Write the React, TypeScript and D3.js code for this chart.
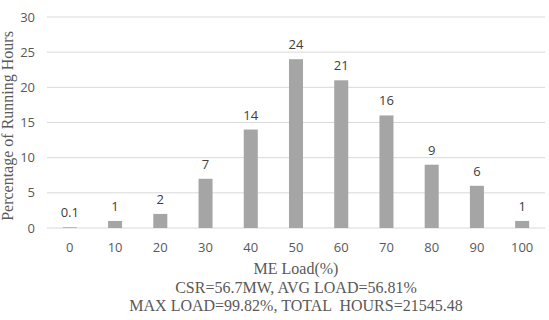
import { useEffect, useRef } from 'react';
import * as d3 from 'd3';

const loads = ['0', '10', '20', '30', '40', '50', '60', '70', '80', '90', '100'];
const hours = [0.1, 1, 2, 7, 14, 24, 21, 16, 9, 6, 1];
const yTicks = [0, 5, 10, 15, 20, 25, 30];
const xTitle = 'ME Load(%)';
const noteLines = ['CSR=56.7MW, AVG LOAD=56.81%', 'MAX LOAD=99.82%, TOTAL  HOURS=21545.48'];

export default function App() {
  const svgRef = useRef<SVGSVGElement>(null);

  useEffect(() => {
    const svg = d3.select(svgRef.current);
    svg.selectAll('*').remove();

    const width = 549;
    const height = 320;
    const margin = { top: 17, right: 4, bottom: 92, left: 47 };
    const innerWidth = width - margin.left - margin.right;
    const innerHeight = height - margin.top - margin.bottom;

    const g = svg.append('g').attr('transform', `translate(${margin.left},${margin.top})`);

    const x = d3.scaleBand().domain(loads).range([0, innerWidth]).paddingInner(0.69).paddingOuter(0.35);
    const y = d3.scaleLinear().domain([0, 30]).range([innerHeight, 0]);

    const tickFont = '"Open Sans", sans-serif';

    // gridlines
    g.append('g')
      .selectAll('line')
      .data(yTicks)
      .join('line')
      .attr('x1', 0)
      .attr('x2', innerWidth)
      .attr('y1', d => y(d))
      .attr('y2', d => y(d))
      .attr('stroke', '#d9d9d9')
      .attr('stroke-width', 1);

    // y tick labels
    g.append('g')
      .selectAll('text')
      .data(yTicks)
      .join('text')
      .attr('x', -12)
      .attr('y', d => y(d))
      .attr('dy', '0.35em')
      .attr('text-anchor', 'end')
      .style('font-family', tickFont)
      .style('font-size', '13px')
      .attr('fill', '#595959')
      .text(d => d);

    // bars
    g.append('g')
      .selectAll('rect')
      .data(hours)
      .join('rect')
      .attr('x', (d, i) => x(loads[i])!)
      .attr('y', d => y(d))
      .attr('width', x.bandwidth())
      .attr('height', d => innerHeight - y(d))
      .attr('fill', '#a5a5a5');

    // value labels
    g.append('g')
      .selectAll('text')
      .data(hours)
      .join('text')
      .attr('x', (d, i) => x(loads[i])! + x.bandwidth() / 2)
      .attr('y', d => y(d) - 10)
      .attr('text-anchor', 'middle')
      .style('font-family', tickFont)
      .style('font-size', '13px')
      .attr('fill', '#404040')
      .text(d => d);

    // x tick labels
    g.append('g')
      .selectAll('text')
      .data(loads)
      .join('text')
      .attr('x', d => x(d)! + x.bandwidth() / 2)
      .attr('y', innerHeight + 19)
      .attr('dy', '0.35em')
      .attr('text-anchor', 'middle')
      .style('font-family', tickFont)
      .style('font-size', '13px')
      .attr('fill', '#595959')
      .text(d => d);

    const serif = '"Liberation Serif", "DejaVu Serif", serif';

    // y axis title
    svg.append('text')
      .attr('transform', `translate(13,${126}) rotate(-90)`)
      .attr('text-anchor', 'middle')
      .style('font-family', serif)
      .style('font-size', '16px')
      .attr('fill', '#595959')
      .text('Percentage of Running Hours');

    // x axis title and notes
    const cx = 296;
    svg.append('text')
      .attr('x', cx)
      .attr('y', 274)
      .attr('text-anchor', 'middle')
      .style('font-family', serif)
      .style('font-size', '16px')
      .attr('fill', '#595959')
      .text(xTitle);

    noteLines.forEach((t, i) => {
      svg.append('text')
        .attr('x', cx)
        .attr('y', 293 + i * 18)
        .attr('text-anchor', 'middle')
        .style('font-family', serif)
        .style('font-size', '16px')
        .style('white-space', 'pre')
        .attr('fill', '#595959')
        .text(t);
    });
  }, []);

  return (
    <svg
      ref={svgRef}
      width={549}
      height={320}
      style={{ position: 'absolute', left: 0, top: 0, background: '#fff' }}
    />
  );
}
